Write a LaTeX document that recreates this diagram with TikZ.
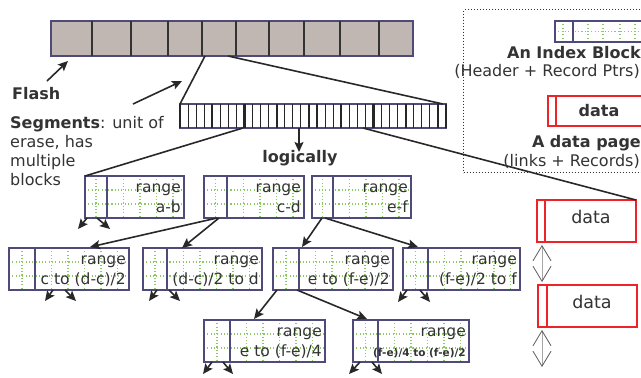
\documentclass[tikz,border=0pt]{standalone}
\usepackage{fontspec}
\setmainfont{DejaVu Sans}
\usetikzlibrary{arrows.meta}
\definecolor{boxc}{RGB}{78,74,122}
\definecolor{gridc}{RGB}{140,200,100}
\definecolor{flashc}{RGB}{192,183,179}
\definecolor{redc}{RGB}{236,36,40}
\definecolor{txtc}{RGB}{51,51,51}
\definecolor{arrc}{RGB}{40,40,40}
\tikzset{
  boxframe/.style={draw=boxc, line width=1.5pt, fill=white, inner sep=0pt, outer sep=0pt},
  boxline/.style={draw=boxc, line width=1.5pt},
  griddot/.style={draw=gridc, line width=1.1pt, dash pattern=on 1.1pt off 2.2pt},
  rtext/.style={text=txtc, font=\fontsize{15.5}{18}\selectfont, inner sep=0pt},
  conn/.style={draw=arrc, line width=1.6pt},
  arr/.style={conn, -{Stealth[length=10pt,width=9pt,inset=2pt]}},
  databox/.style={draw=redc, line width=1.6pt, fill=white, inner sep=0pt, outer sep=0pt},
  dbl/.style={draw=black!35, line width=1pt, {Straight Barb[length=15pt,width=18pt,line width=0.8pt,color=black!65]}-{Straight Barb[length=15pt,width=18pt,line width=0.8pt,color=black!65]}},
  lbl/.style={text=txtc, inner sep=0pt, font=\fontsize{16}{19}\selectfont},
}
% name, x1, y1, x2, y2, divider x, second line
\newcommand{\idxbox}[7]{%
  \node[boxframe, minimum width={#4-#2}, minimum height={#5-#3}, anchor=north west] (#1) at (#2,#3) {};
  \begin{scope}
    \clip (#2,#3) rectangle (#4,#5);
    \draw[griddot] (#2,{#3+(#5-#3)/3}) -- (#4,{#3+(#5-#3)/3});
    \draw[griddot] (#2,{#3+2*(#5-#3)/3}) -- (#4,{#3+2*(#5-#3)/3});
    \draw[griddot] ({(#2+#6)/2},#3) -- ({(#2+#6)/2},#5);
    \foreach \k in {1,...,9} {\draw[griddot] ({#6+16.5*\k},#3) -- ({#6+16.5*\k},#5);}
  \end{scope}
  \draw[boxline] (#1.north west) rectangle (#1.south east);
  \draw[boxline] (#6,#3) -- (#6,#5);
  \node[rtext, anchor=base east] (#1-r) at ({#4-3},{#3+16.5}) {range};
  \node[rtext, anchor=base east] (#1-l) at ({#4-3},{#3+36.5}) {#7};
}
\begin{document}
\begin{tikzpicture}[x=1pt,y=-1pt]
\useasboundingbox (0,0) rectangle (641,378);
\clip (0,0) rectangle (641,378);

% ---------- Flash strip ----------
\node[draw=boxc, line width=1.5pt, fill=flashc, minimum width=362, minimum height=35, anchor=north west, inner sep=0pt, outer sep=0pt] (flash) at (51,21) {};
\foreach \cx in {92,131,168,202,236,269,304,340,379} {\draw[draw=black!80, line width=1.3pt] (\cx,21) -- (\cx,56);}

% ---------- Segment strip ----------
\node[draw=boxc, line width=1.3pt, fill=white, minimum width=266, minimum height=24, anchor=north west, inner sep=0pt, outer sep=0pt] (seg) at (180,104) {};
\foreach \k in {0,...,33} {
  \pgfmathsetmacro\sx{180+266*\k/33}
  \pgfmathsetmacro\sw{mod(\k,4)==0 ? 2.2 : 1.1}
  \draw[black!85, line width=\sw pt] (\sx,104) -- (\sx,128);
}

% zoom lines flash -> segment
\coordinate (fa) at (205,56);
\coordinate (fb) at (228,56);
\draw[conn] (fa) -- (seg.north west);
\draw[conn] (fb) -- ([xshift=-3pt]seg.north east);

% labels on the left
\node[lbl, anchor=base west, font=\fontsize{16}{19}\selectfont\bfseries] (flashlbl) at (12,99) {Flash};
\coordinate (flasharr) at (47,81);
\draw[arr] (flasharr) -- (68,61);
\node[lbl, anchor=north west, align=left] (seglbl) at (10,116) {\textbf{Segments}: unit of\\erase, has\\multiple\\blocks};
\coordinate (segarr) at (133,104);
\draw[arr] (segarr) -- (182,81);

% logically
\coordinate (logtop) at (299,128);
\node[lbl, anchor=base, font=\fontsize{16}{19}\selectfont\bfseries] (logic) at (300,162) {logically};
\draw[arr] (logtop) -- (299,152);

% ---------- Index blocks ----------
\idxbox{ab}{85}{176}{184}{218}{107}{a-b}
\idxbox{cd}{204}{176}{304}{218}{227}{c-d}
\idxbox{ef}{312}{176}{411}{218}{333}{e-f}
\idxbox{ca}{9}{248}{129}{290}{35}{c to (d-c)/2}
\idxbox{cb}{143}{248}{262}{290}{167}{(d-c)/2 to d}
\idxbox{ea}{273}{248}{393}{290}{299}{e to (f-e)/2}
\idxbox{eb}{403}{248}{520}{290}{428}{(f-e)/2 to f}
\idxbox{eaa}{204}{320}{325}{362}{230}{e to (f-e)/4}
\idxbox{eab}{353}{320}{469}{362}{378}{{\fontsize{10.5}{12}\selectfont\bfseries (f-e)/4 to (f-e)/2}}

% ---------- data pages ----------
\node[databox, minimum width=99, minimum height=42, anchor=north west] (d1) at (537,200) {};
\draw[redc, line width=1.6pt] (545,200) -- (545,242);
\node[rtext, font=\fontsize{17.5}{20}\selectfont, anchor=base] (d1t) at (591,223) {data};
\node[databox, minimum width=99, minimum height=42, anchor=north west] (d2) at (538,285) {};
\draw[redc, line width=1.6pt] (547,285) -- (547,327);
\node[rtext, font=\fontsize{17.5}{20}\selectfont, anchor=base] (d2t) at (592,308) {data};
\coordinate (da) at (542,245);
\coordinate (db) at (542,282);
\coordinate (dc) at (542,330);
\coordinate (dd) at (542,367);
\draw[dbl] (da) -- (db);
\draw[dbl] (dc) -- (dd);

% zoom lines segment -> blocks
\coordinate (sa) at (243,128);
\coordinate (sb) at (363,128);
\draw[conn] (sa) -- (ab.north west);
\draw[conn] (sb) -- (d1.north east);

% ---------- tree arrows ----------
\coordinate (cbt) at (182,248);
\coordinate (cat) at (90,247);
\coordinate (ea1) at (302,247);
\coordinate (eb1) at (418,247);
\coordinate (r3a) at (254,319);
\coordinate (r3b) at (367,319);
\draw[arr] ([xshift=2pt]ab.south west) -- ++(-9,11);
\draw[arr] ([xshift=12pt]ab.south west) -- ++(13,11);
\draw[arr] ([xshift=13pt]cd.south west) -- (cat);
\draw[arr] ([xshift=15pt]cd.south west) -- (cbt);
\draw[arr] ([xshift=10pt]ef.south west) -- (ea1);
\draw[arr] ([xshift=13pt]ef.south west) -- (eb1);
\draw[arr] ([xshift=4pt]ea.south west) -- (r3a);
\draw[arr] ([xshift=24pt]ea.south west) -- (r3b);

% stubs
\draw[arr] ([xshift=44pt]ca.south west) -- ++(-8,11);
\draw[arr] ([xshift=56pt]ca.south west) -- ++(11,11);
\draw[arr] ([xshift=14pt]cb.south west) -- ++(-8,11);
\draw[arr] ([xshift=26pt]cb.south west) -- ++(11,11);
\draw[arr] ([xshift=4pt]eb.south west) -- ++(-9,12);
\draw[arr] ([xshift=17pt]eb.south west) -- ++(10,12);
\draw[arr] ([xshift=8pt]eaa.south west) -- ++(-9,12);
\draw[arr] ([xshift=19pt]eaa.south west) -- ++(10,12);
\draw[arr] ([xshift=7pt]eab.south west) -- ++(-11,12);
\draw[arr] ([xshift=19pt]eab.south west) -- ++(10,12);

% ---------- legend ----------
\node[draw=black!80, line width=1pt, dotted, minimum width=200, minimum height=163, anchor=north west, inner sep=0pt] (legend) at (463,9) {};
\node[boxframe, minimum width=100, minimum height=21, anchor=north west] (lidx) at (555,21) {};
\begin{scope}
  \clip (555,21) rectangle (655,42);
  \draw[griddot] (555,31.5) -- (655,31.5);
  \foreach \gx in {563,588,603,620,635} {\draw[griddot] (\gx,21) -- (\gx,42);}
\end{scope}
\draw[boxline] (lidx.north west) rectangle (lidx.south east);
\draw[boxline] (573,21) -- (573,42);
\node[lbl, anchor=base east, font=\fontsize{16}{19}\selectfont\bfseries] (lidxt) at (641,58) {An Index Block};
\node[lbl, anchor=base east] (lidxs) at (640,76) {(Header + Record Ptrs)};
\node[databox, minimum width=100, minimum height=30, anchor=north west] (ldat) at (548,96) {};
\draw[redc, line width=1.6pt] (556,96) -- (556,126);
\node[lbl, anchor=base, font=\fontsize{16}{19}\selectfont\bfseries] (ldatt) at (599,116) {data};
\node[lbl, anchor=base east, font=\fontsize{16}{19}\selectfont\bfseries] (ldatp) at (641,147) {A data page};
\node[lbl, anchor=base east] (ldats) at (640,166) {(links + Records)};
\end{tikzpicture}
\end{document}
